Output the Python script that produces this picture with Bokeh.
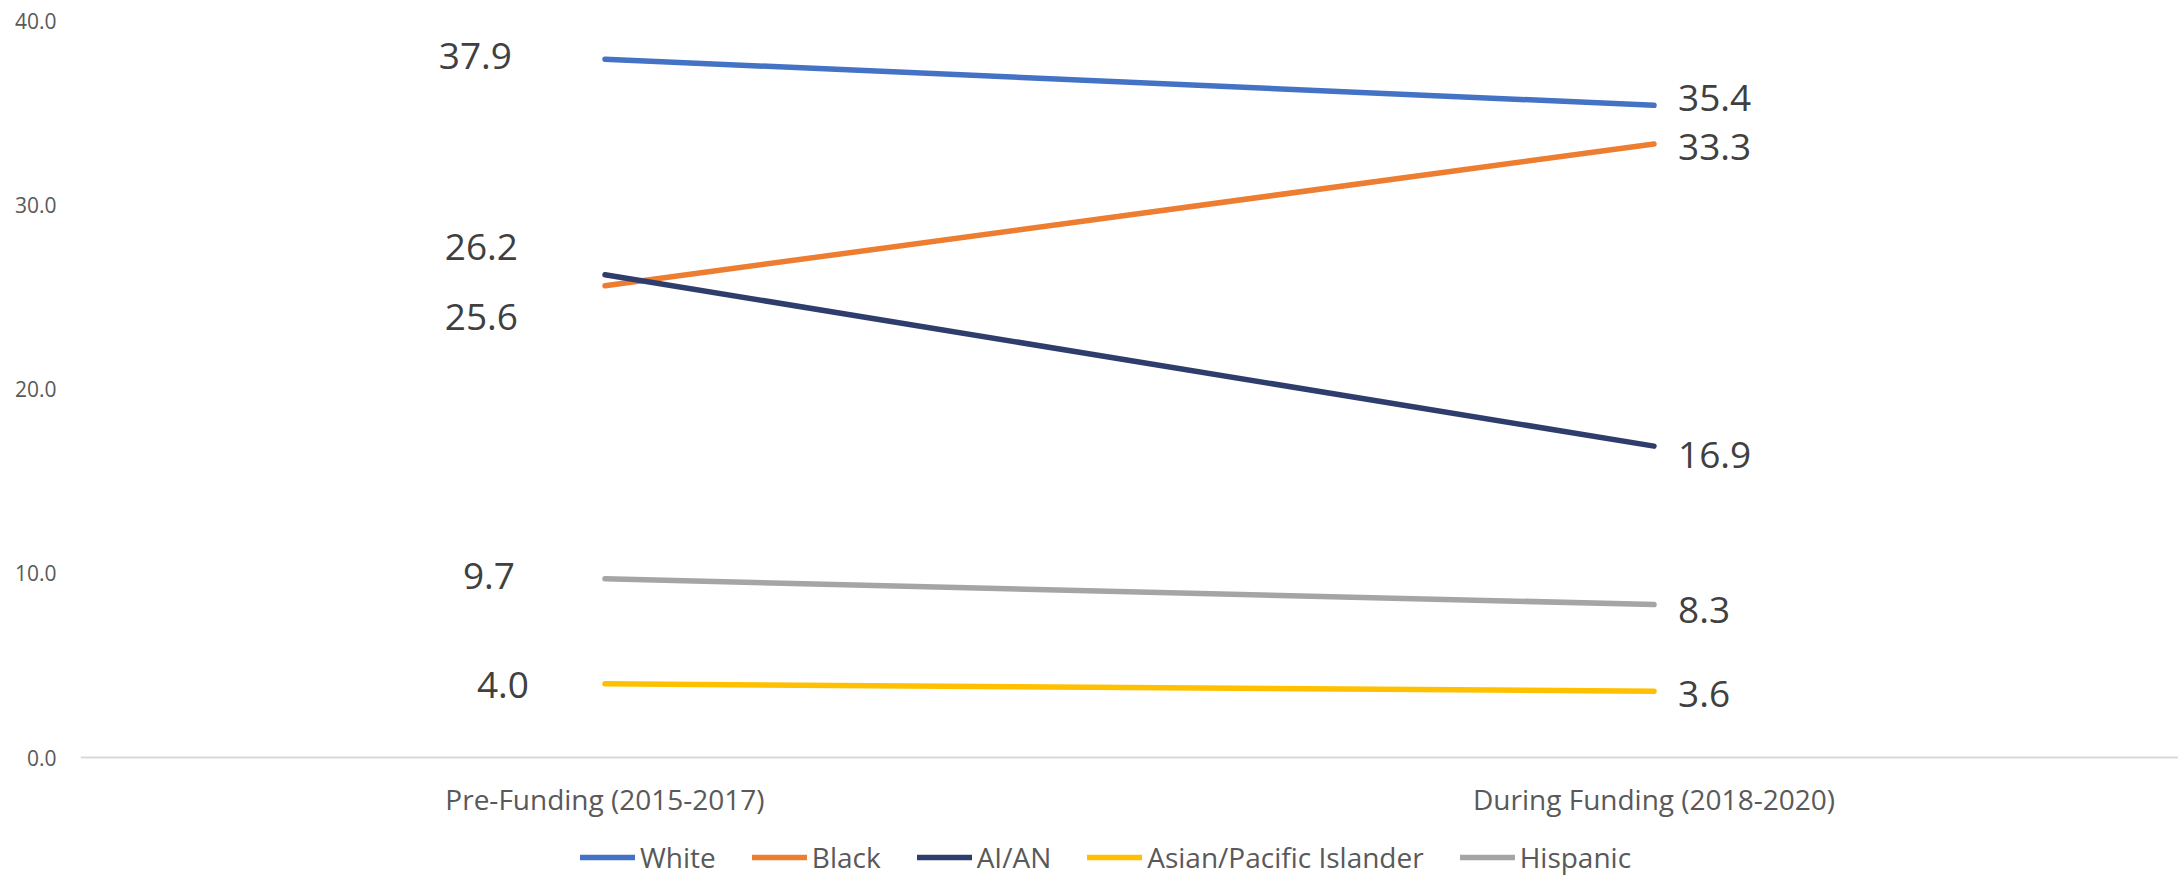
from bokeh.plotting import figure
from bokeh.models import (Range1d, FixedTicker, NumeralTickFormatter, Legend, LegendItem,
                          ColumnDataSource)
from bokeh.embed import file_html
from bokeh.resources import INLINE
from bokeh.core.properties import value

# ---- data ----
periods = ["Pre-Funding (2015-2017)", "During Funding (2018-2020)"]
groups = ["White", "Black", "AI/AN", "Asian/Pacific Islander", "Hispanic"]
pre_funding = [37.9, 25.6, 26.2, 4.0, 9.7]
during_funding = [35.4, 33.3, 16.9, 3.6, 8.3]
y_ticks = [0, 10, 20, 30, 40]

# ---- styling ----
colors = ["#4472C4", "#ED7D31", "#2E3D6B", "#FFC000", "#A5A5A5"]
# label nudges in screen pixels (layout only)
left_dx = [-93, -87, -87, -76, -90]
left_dy = [-3, 31, -28, 1, -3]
right_dx = [24, 24, 24, 24, 24]
right_dy = [-7, 3, 9, 3, 5]

FONT = "Open Sans"
W, H = 2178, 877
TOP, BOTTOM_ZERO = 20, 757          # pixel rows of y=40 and y=0
px_per_unit = (BOTTOM_ZERO - TOP) / 40.0
y_start = -(H - BOTTOM_ZERO) / px_per_unit

p = figure(x_range=periods, y_range=Range1d(y_start, 40), width=W, height=H,
           output_backend="svg", toolbar_location=None,
           min_border_left=80, min_border_right=0, min_border_top=TOP,
           min_border_bottom=0)
p.outline_line_color = None
p.xgrid.visible = False
p.ygrid.visible = False
p.background_fill_color = "white"
p.border_fill_color = "white"

# y axis
p.yaxis.ticker = FixedTicker(ticks=y_ticks)
p.yaxis.formatter = NumeralTickFormatter(format="0.0")
p.yaxis.axis_line_color = None
p.yaxis.major_tick_line_color = None
p.yaxis.minor_tick_line_color = None
p.yaxis.major_tick_out = 0
p.yaxis.major_tick_in = 0
p.yaxis.major_label_standoff = 24
p.yaxis.major_label_text_font = FONT
p.yaxis.major_label_text_font_size = "21px"
p.yaxis.major_label_text_color = "#595959"

# x axis (baseline at y = 0)
p.xaxis.fixed_location = 0
p.xaxis.axis_line_color = "#D9D9D9"
p.xaxis.axis_line_width = 2
p.xaxis.major_tick_line_color = None
p.xaxis.minor_tick_line_color = None
p.xaxis.major_tick_out = 0
p.xaxis.major_tick_in = 0
p.xaxis.major_label_standoff = 22
p.xaxis.major_label_text_font = FONT
p.xaxis.major_label_text_font_size = "28px"
p.xaxis.major_label_text_color = "#595959"

items = []
for i, g in enumerate(groups):
    r = p.line(x=periods, y=[pre_funding[i], during_funding[i]], line_color=colors[i],
               line_width=5.5, line_cap="round")
    items.append(LegendItem(label=g, renderers=[r]))

# data labels
src_left = ColumnDataSource(dict(
    x=[periods[0]] * len(groups), y=pre_funding,
    t=[f"{v:.1f}" for v in pre_funding], dx=left_dx, dy=left_dy))
src_right = ColumnDataSource(dict(
    x=[periods[1]] * len(groups), y=during_funding,
    t=[f"{v:.1f}" for v in during_funding], dx=right_dx, dy=right_dy))

p.text(x="x", y="y", text="t", x_offset="dx", y_offset="dy", source=src_left,
       text_align="right", text_baseline="middle", text_font=value(FONT),
       text_font_size="37px", text_color="#404040")
p.text(x="x", y="y", text="t", x_offset="dx", y_offset="dy", source=src_right,
       text_align="left", text_baseline="middle", text_font=value(FONT),
       text_font_size="37px", text_color="#404040")

legend = Legend(items=items, orientation="horizontal", location=(500, 1),
                glyph_width=55, glyph_height=20, label_standoff=5, spacing=36,
                label_text_font=FONT, label_text_font_size="28px",
                label_text_color="#595959", border_line_color=None,
                background_fill_alpha=0, padding=0, margin=0)
p.add_layout(legend, "center")

open("out.html", "w").write(file_html(p, INLINE))
